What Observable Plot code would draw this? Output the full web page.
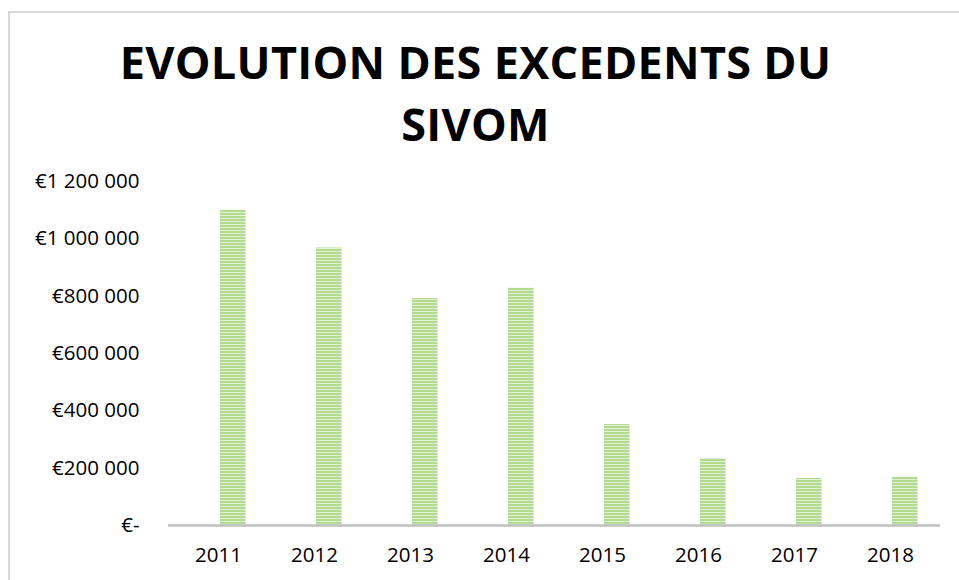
<!DOCTYPE html>
<html>
<head>
<meta charset="utf-8">
<script src="https://cdn.jsdelivr.net/npm/d3@7"></script>
<script src="https://cdn.jsdelivr.net/npm/@observablehq/plot@0.6"></script>
<style>
  html, body { margin: 0; padding: 0; background: #fff; width: 959px; height: 580px; overflow: hidden; }
  #wrap { position: relative; width: 959px; height: 580px; }
  #frame { position: absolute; left: 8px; top: 11px; width: 1000px; height: 700px; border-left: 2px solid #d9d9d9; border-top: 2px solid #d9d9d9; box-sizing: border-box; }
  #title { position: absolute; left: -4px; top: 31px; width: 959px; text-align: center; font-family: "Open Sans", sans-serif; font-weight: 700; font-size: 45px; letter-spacing: 0.3px; line-height: 62px; color: #000; }
  #chart { position: absolute; left: 0; top: 150px; }
</style>
</head>
<body>
<div id="wrap">
  <div id="frame"></div>
  <div id="title">EVOLUTION DES EXCEDENTS DU<br>SIVOM</div>
  <div id="chart"></div>
</div>
<script>
const years = ["2011", "2012", "2013", "2014", "2015", "2016", "2017", "2018"];
const excedents = [1100000, 968000, 792000, 828000, 352000, 234000, 164000, 168000];
const yTicks = [0, 200000, 400000, 600000, 800000, 1000000, 1200000];

const data = years.map((y, i) => ({year: y, value: excedents[i]}));
const fmt = v => v === 0 ? "€-" : "€" + d3.format(",")(v).replace(/,/g, " ");

const chart = Plot.plot({
  width: 959,
  height: 430,
  marginTop: 31,
  marginBottom: 55,
  marginLeft: 168,
  marginRight: 19,
  style: {fontFamily: "Open Sans, sans-serif", fontSize: "20.5px", color: "#000", background: "transparent"},
  x: {domain: years, padding: 0, label: null},
  y: {domain: [0, 1200000], label: null},
  marks: [
    Plot.barY(data, {x: "year", y: "value", fill: "url(#stripes)", insetLeft: 50, insetRight: 20.5}),
    Plot.ruleY([0], {stroke: "#bfbfbf", strokeWidth: 2.5}),
    Plot.axisY({ticks: yTicks, tickFormat: fmt, tickSize: 0, tickPadding: 29, label: null, fontSize: 20.5}),
    Plot.axisX({tickSize: 0, tickPadding: 22, label: null, fontSize: 20.5})
  ]
});

const svg = d3.select(chart);
const defs = svg.insert("defs", ":first-child");
const pat = defs.append("pattern")
  .attr("id", "stripes")
  .attr("patternUnits", "userSpaceOnUse")
  .attr("width", 8).attr("height", 3);
pat.append("rect").attr("width", 8).attr("height", 3).attr("fill", "#e4f1d9");
pat.append("rect").attr("width", 8).attr("height", 2).attr("fill", "#b3d98f");

document.getElementById("chart").appendChild(chart);
</script>
</body>
</html>
